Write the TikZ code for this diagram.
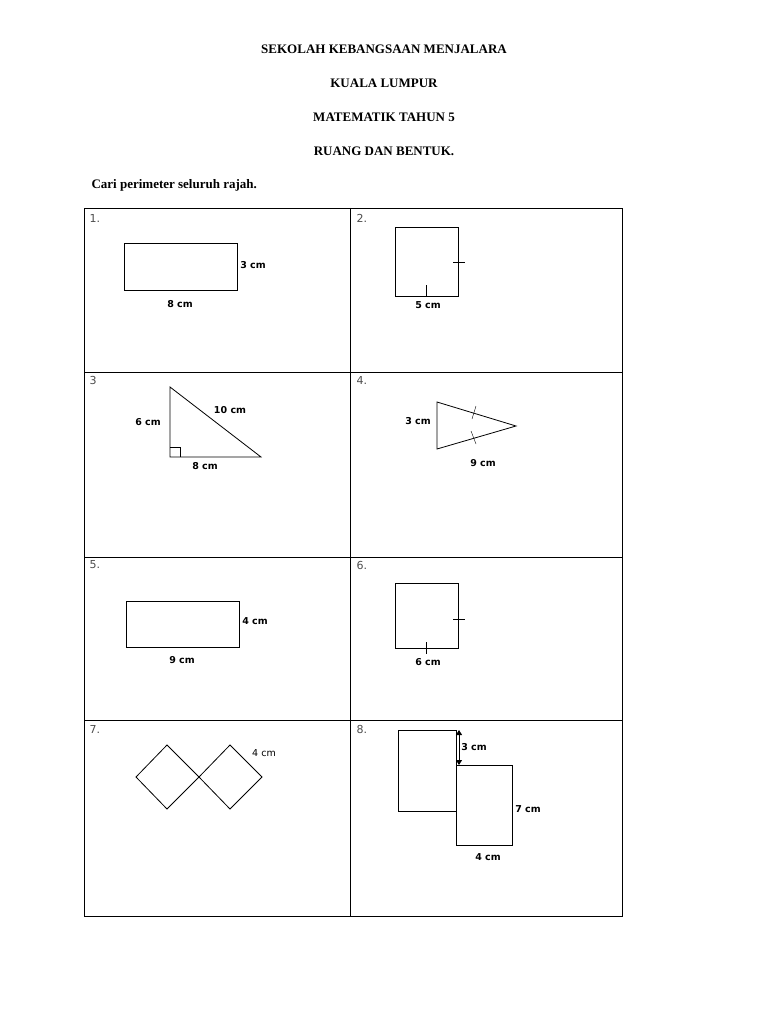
\documentclass[tikz,border=0pt]{standalone}
\usepackage{fontspec}
\setmainfont{Liberation Serif}
\newfontfamily\lbl{DejaVu Sans}
\usetikzlibrary{arrows.meta}
\begin{document}
\begin{tikzpicture}[x=1pt,y=-1pt,
  title/.style={font=\bfseries\fontsize{13}{15}\selectfont},
  lab/.style={font=\lbl\bfseries\fontsize{9.5}{11}\selectfont},
  num/.style={font=\lbl\fontsize{11}{12}\selectfont, text=black!70, anchor=west},
  shp/.style={draw, line width=0.8pt}]
\useasboundingbox (0,0) rectangle (768,1024);
\node[title] (t1) at (384,49) {SEKOLAH KEBANGSAAN MENJALARA};
\node[title] (t2) at (384,83) {KUALA LUMPUR};
\node[title] (t3) at (384,117) {MATEMATIK TAHUN 5};
\node[title] (t4) at (384,151) {RUANG DAN BENTUK.};
\node[title, anchor=west] (t5) at (88,185) {Cari perimeter seluruh rajah.};
% table
\draw[line width=0.7pt] (84,208) rectangle (622,916);
\draw[line width=0.7pt] (350,208) -- (350,916);
\foreach \y in {372,557,720} \draw[line width=0.7pt] (84,\y) -- (622,\y);
% numbers
\node[num] (n1) at (86,218) {1.};
\node[num] (n2) at (353,218) {2.};
\node[num] (n3) at (86,380) {3};
\node[num] (n4) at (353,380) {4.};
\node[num] (n5) at (86,565) {5.};
\node[num] (n6) at (353,565) {6.};
\node[num] (n7) at (86,729) {7.};
\node[num] (n8) at (353,729) {8.};
% 1
\draw[shp] (124,243) rectangle (237,290);
\node[lab] (l1a) at (253,265) {3 cm};
\node[lab] (l1b) at (180,304) {8 cm};
% 2
\draw[shp] (395,227) rectangle (458,296);
\draw (453,262) -- (465,262);
\draw (426,285) -- (426,296);
\node[lab] (l2) at (428,305) {5 cm};
% 3
\draw[shp] (170,387) -- (170,457) -- (261,457) -- cycle;
\draw[line width=0.8pt] (170,447) -| (180,457);
\node[lab] (l3a) at (148,422) {6 cm};
\node[lab] (l3b) at (230,410) {10 cm};
\node[lab] (l3c) at (205,466) {8 cm};
% 4
\draw[shp] (437,402) -- (516,426) -- (437,449) -- cycle;
\draw (476,406) -- (472,419);
\draw (471,431) -- (476,444);
\node[lab] (l4a) at (418,421) {3 cm};
\node[lab] (l4b) at (483,463) {9 cm};
% 5
\draw[shp] (126,601) rectangle (239,647);
\node[lab] (l5a) at (255,621) {4 cm};
\node[lab] (l5b) at (182,660) {9 cm};
% 6
\draw[shp] (395,583) rectangle (458,648);
\draw (453,619) -- (465,619);
\draw (426,642) -- (426,654);
\node[lab] (l6) at (428,662) {6 cm};
% 7
\draw[shp] (136,777) -- (167,745) -- (199,777) -- (167,809) -- cycle;
\draw[shp] (199,777) -- (230,745) -- (262,777) -- (230,809) -- cycle;
\node[font=\lbl\fontsize{9.5}{11}\selectfont] (l7) at (264,753) {4 cm};
% 8
\draw[shp] (398,730) rectangle (456,811);
\draw[shp] (456,765) rectangle (512,845);
\coordinate (a1) at (459,730);
\coordinate (a2) at (459,765);
\draw[line width=1pt, {Triangle[length=5pt,width=6pt]}-{Triangle[length=5pt,width=6pt]}] (a1) -- (a2);
\node[lab] (l8a) at (474,747) {3 cm};
\node[lab] (l8b) at (528,809) {7 cm};
\node[lab] (l8c) at (488,857) {4 cm};
\end{tikzpicture}
\end{document}
